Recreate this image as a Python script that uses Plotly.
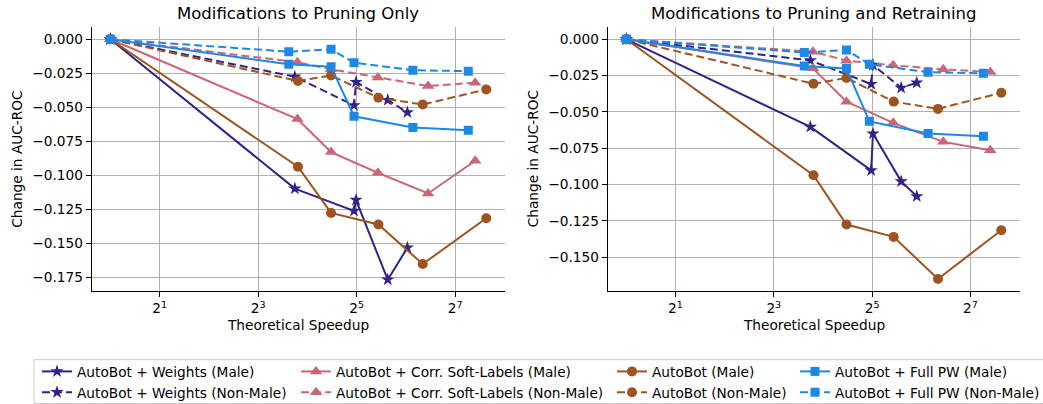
import plotly.graph_objects as go
import math

# ---------------- data ----------------
# Shared baseline / Full PW series (identical in both panels)
AB_X = [1, 14.0, 22.3, 43.4, 81.0, 198.0]
AB_MALE = [0, -0.0936, -0.1275, -0.1360, -0.1650, -0.1314]
AB_NONMALE = [0, -0.0306, -0.0266, -0.0429, -0.0479, -0.0368]

PW_X = [1, 12.3, 22.3, 30.8, 70.5, 153.8]
PW_MALE = [0, -0.0184, -0.0201, -0.0565, -0.0648, -0.0667]
PW_NONMALE = [0, -0.0091, -0.0074, -0.0172, -0.0227, -0.0234]

SL_X = [1, 13.9, 22.3, 43.1, 87.3, 169.5]

# Panel 1: Modifications to Pruning Only
W_X_PRUNE = [1, 13.4, 30.8, 31.7, 49.5, 65.3]
W_MALE_PRUNE = [0, -0.1096, -0.1260, -0.1180, -0.1765, -0.1530]
W_NONMALE_PRUNE = [0, -0.0275, -0.0485, -0.0314, -0.0446, -0.0537]
SL_MALE_PRUNE = [0, -0.0586, -0.0828, -0.0980, -0.1132, -0.0892]
SL_NONMALE_PRUNE = [0, -0.0169, -0.0220, -0.0280, -0.0343, -0.0319]

# Panel 2: Modifications to Pruning and Retraining
W_X_RETRAIN = [1, 13.4, 31.6, 32.4, 48.2, 60.1]
W_MALE_RETRAIN = [0, -0.0603, -0.0902, -0.0649, -0.0978, -0.1081]
W_NONMALE_RETRAIN = [0, -0.0145, -0.0308, -0.0177, -0.0334, -0.0299]
SL_MALE_RETRAIN = [0, -0.0200, -0.0430, -0.0575, -0.0706, -0.0764]
SL_NONMALE_RETRAIN = [0, -0.0085, -0.0147, -0.0179, -0.0207, -0.0225]

TITLES = ["Modifications to Pruning Only", "Modifications to Pruning and Retraining"]
X_TICKS = [2, 8, 32, 128]
X_TICKTEXT = ["2<sup>1</sup>", "2<sup>3</sup>", "2<sup>5</sup>", "2<sup>7</sup>"]
Y_TICKS_1 = [0, -0.025, -0.05, -0.075, -0.1, -0.125, -0.15, -0.175]
Y_TICKS_2 = [0, -0.025, -0.05, -0.075, -0.1, -0.125, -0.15]

# ---------------- style ----------------
W, H = 1043, 404
FONT = "DejaVu Sans"
FS = 13.7
NAVY, PINK, BROWN, BLUE = "#332288", "#CC6677", "#9F5320", "#1E88E5"
DASH = "8px,4px"

def px_x(p):
    return p / W

def px_y(p):
    return 1 - p / H

def fmt(v):
    s = f"{abs(v):.3f}"
    return ("\u2212" + s) if v < 0 else s

fig = go.Figure()

series = [
    # name, color, symbol, size, dash, (x1,y1), (x2,y2), legend column
    ("AutoBot + Weights (Male)", NAVY, "star", 10, "solid", (W_X_PRUNE, W_MALE_PRUNE), (W_X_RETRAIN, W_MALE_RETRAIN), "legend"),
    ("AutoBot + Weights (Non-Male)", NAVY, "star", 10, DASH, (W_X_PRUNE, W_NONMALE_PRUNE), (W_X_RETRAIN, W_NONMALE_RETRAIN), "legend"),
    ("AutoBot + Corr. Soft-Labels (Male)", PINK, "triangle-up", 11, "solid", (SL_X, SL_MALE_PRUNE), (SL_X, SL_MALE_RETRAIN), "legend2"),
    ("AutoBot + Corr. Soft-Labels (Non-Male)", PINK, "triangle-up", 11, DASH, (SL_X, SL_NONMALE_PRUNE), (SL_X, SL_NONMALE_RETRAIN), "legend2"),
    ("AutoBot (Male)", BROWN, "circle", 10, "solid", (AB_X, AB_MALE), (AB_X, AB_MALE), "legend3"),
    ("AutoBot (Non-Male)", BROWN, "circle", 10, DASH, (AB_X, AB_NONMALE), (AB_X, AB_NONMALE), "legend3"),
    ("AutoBot + Full PW (Male)", BLUE, "square", 9, "solid", (PW_X, PW_MALE), (PW_X, PW_MALE), "legend4"),
    ("AutoBot + Full PW (Non-Male)", BLUE, "square", 9, DASH, (PW_X, PW_NONMALE), (PW_X, PW_NONMALE), "legend4"),
]

for i, (name, col, sym, sz, dash, d1, d2, leg) in enumerate(series):
    for k, (xs, ys) in enumerate([d1, d2]):
        fig.add_trace(go.Scatter(
            x=xs, y=ys, mode="lines+markers", name=name,
            line=dict(color=col, width=2, dash=dash),
            marker=dict(symbol=sym, size=sz, color=col, line=dict(width=0)),
            xaxis="x" if k == 0 else "x2", yaxis="y" if k == 0 else "y2",
            showlegend=(k == 0), legend=leg, legendgroup=f"g{i}",
        ))

x_range = [math.log10(2 ** -0.38), math.log10(2 ** 8.01)]
axis_common = dict(
    showline=True, linecolor="black", linewidth=1, mirror=False,
    showgrid=True, gridcolor="#b0b0b0", gridwidth=1, zeroline=False,
    ticks="outside", ticklen=5, tickwidth=1, tickcolor="black",
    tickfont=dict(family=FONT, size=FS, color="black"),
    automargin=False,
)

ydom = [px_y(291), px_y(27.3)]
fig.update_layout(
    width=W, height=H, autosize=False,
    margin=dict(l=0, r=0, t=0, b=0, autoexpand=False),
    paper_bgcolor="white", plot_bgcolor="white",
    font=dict(family=FONT, size=FS, color="black"),
    xaxis=dict(domain=[px_x(91.7), px_x(505)], type="log", range=x_range,
               tickvals=X_TICKS, ticktext=X_TICKTEXT, anchor="y", **axis_common),
    yaxis=dict(domain=ydom, range=[-0.1848, 0.0088], tickvals=Y_TICKS_1,
               ticktext=[fmt(v) for v in Y_TICKS_1], anchor="x", **axis_common),
    xaxis2=dict(domain=[px_x(607.7), px_x(1020)], type="log", range=x_range,
                tickvals=X_TICKS, ticktext=X_TICKTEXT, anchor="y2", **axis_common),
    yaxis2=dict(domain=ydom, range=[-0.17325, 0.00825], tickvals=Y_TICKS_2,
                ticktext=[fmt(v) for v in Y_TICKS_2], anchor="x2", **axis_common),
)

# legends: four columns, two rows each
leg_common = dict(orientation="v", xanchor="left", yanchor="top",
                  bgcolor="rgba(0,0,0,0)", borderwidth=0,
                  font=dict(family=FONT, size=FS, color="black"),
                  tracegroupgap=0, itemclick=False, itemdoubleclick=False)
leg_y = px_y(356)
fig.update_layout(
    legend=dict(x=px_x(37), y=leg_y, **leg_common),
    legend2=dict(x=px_x(296), y=leg_y, **leg_common),
    legend3=dict(x=px_x(612), y=leg_y, **leg_common),
    legend4=dict(x=px_x(795), y=leg_y, **leg_common),
)

# legend frame
fig.add_shape(type="rect", xref="paper", yref="paper",
              x0=px_x(34), x1=px_x(1060), y0=px_y(403.5), y1=px_y(359.7),
              line=dict(color="#cccccc", width=1), fillcolor="rgba(0,0,0,0)", layer="below")

# titles and axis labels
for cx, t in [(298.3, TITLES[0]), (813.9, TITLES[1])]:
    fig.add_annotation(text=t, xref="paper", yref="paper", x=px_x(cx), y=px_y(13),
                       xanchor="center", yanchor="middle", showarrow=False,
                       font=dict(family=FONT, size=16.5, color="black"))
    fig.add_annotation(text="Theoretical Speedup", xref="paper", yref="paper",
                       x=px_x(cx), y=px_y(325), xanchor="center", yanchor="middle",
                       showarrow=False, font=dict(family=FONT, size=FS, color="black"))
for cx in [16.7, 533.3]:
    fig.add_annotation(text="Change in AUC-ROC", xref="paper", yref="paper",
                       x=px_x(cx), y=px_y(159), xanchor="center", yanchor="middle",
                       textangle=-90, showarrow=False,
                       font=dict(family=FONT, size=FS, color="black"))

# remove the default page margin so the figure fills the window exactly
fig.write_html("out.html",
               config={"displayModeBar": False, "staticPlot": True},
               post_script="document.body.style.margin='0px';document.body.style.overflow='hidden';")
